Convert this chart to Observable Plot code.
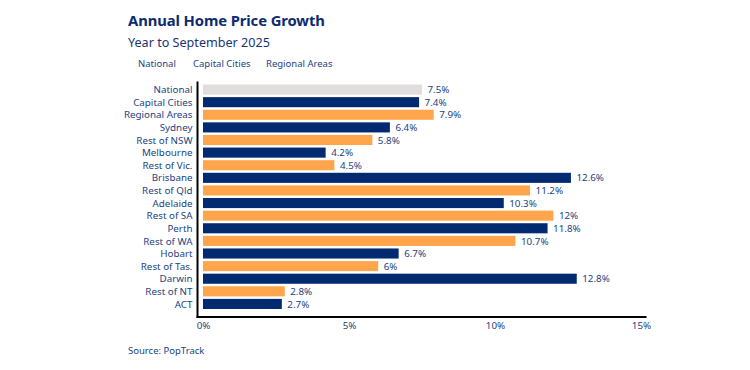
<!DOCTYPE html>
<html>
<head>
<meta charset="utf-8">
<script src="https://cdn.jsdelivr.net/npm/d3@7"></script>
<script src="https://cdn.jsdelivr.net/npm/@observablehq/plot@0.6"></script>
<style>
  body { margin: 0; background: #fff; font-family: "Noto Sans", sans-serif; }
  #wrap { position: relative; width: 750px; height: 370px; overflow: hidden; }
  .abs { position: absolute; white-space: nowrap; color: #243f82; }
  #title { left: 128px; top: 10px; font-size: 14.8px; font-weight: 700; color: #0d2b6e; letter-spacing: -0.1px; }
  #subtitle { left: 128px; top: 34px; font-size: 12.6px; color: #1b3474; }
  .leg { top: 57px; font-size: 9.5px; }
  #source { left: 128px; top: 344px; font-size: 9.5px; }
  #chart { position: absolute; left: 0; top: 0; }
</style>
</head>
<body>
<div id="wrap">
  <div id="title" class="abs">Annual Home Price Growth</div>
  <div id="subtitle" class="abs">Year to September 2025</div>
  <div class="abs leg" style="left:138px">National</div>
  <div class="abs leg" style="left:193px">Capital Cities</div>
  <div class="abs leg" style="left:266px">Regional Areas</div>
  <div id="source" class="abs">Source: PopTrack</div>
  <div id="chart"></div>
</div>
<script>
const categories = ["National","Capital Cities","Regional Areas","Sydney","Rest of NSW","Melbourne","Rest of Vic.","Brisbane","Rest of Qld","Adelaide","Rest of SA","Perth","Rest of WA","Hobart","Rest of Tas.","Darwin","Rest of NT","ACT"];
const values = [7.5,7.4,7.9,6.4,5.8,4.2,4.5,12.6,11.2,10.3,12,11.8,10.7,6.7,6,12.8,2.8,2.7];
const groups = ["National","Capital Cities","Regional Areas","Capital Cities","Regional Areas","Capital Cities","Regional Areas","Capital Cities","Regional Areas","Capital Cities","Regional Areas","Capital Cities","Regional Areas","Capital Cities","Regional Areas","Capital Cities","Regional Areas","Capital Cities"];
const groupNames = ["National","Capital Cities","Regional Areas"];
const groupColors = ["#e1dede","#012a70","#ffa64d"];
const xTicks = [0,5,10,15];

const data = categories.map((c,i) => ({name: c, value: values[i], group: groups[i]}));
const textColor = "#243f82";

const chart = Plot.plot({
  width: 750,
  height: 345,
  marginLeft: 197,
  marginRight: 105,
  marginTop: 82,
  marginBottom: 28.5,
  style: {fontFamily: "Noto Sans, sans-serif", fontSize: "9.8px", color: textColor, background: "transparent"},
  x: {domain: [0, 15], insetLeft: 6, insetRight: 4, ticks: xTicks, tickFormat: d => d + "%", label: null},
  y: {domain: categories, padding: 0.2, round: false, insetBottom: 5, label: null},
  color: {domain: groupNames, range: groupColors},
  marks: [
    Plot.barX(data, {y: "name", x: "value", fill: "group"}),
    Plot.text(data, {y: "name", x: "value", text: d => d.value + "%", textAnchor: "start", dx: 5, fill: textColor, fontSize: 9.8}),
    Plot.axisY({tickSize: 0, tickPadding: 5, fill: textColor, fontSize: 9.8}),
    Plot.axisX({ticks: xTicks, tickFormat: d => d + "%", tickSize: 0, tickPadding: 5, fill: textColor, fontSize: 9.8, label: null}),
    Plot.frame({anchor: "left", stroke: "#000", strokeWidth: 2}),
    Plot.frame({anchor: "bottom", stroke: "#000", strokeWidth: 2})
  ]
});
document.getElementById("chart").appendChild(chart);
</script>
</body>
</html>
